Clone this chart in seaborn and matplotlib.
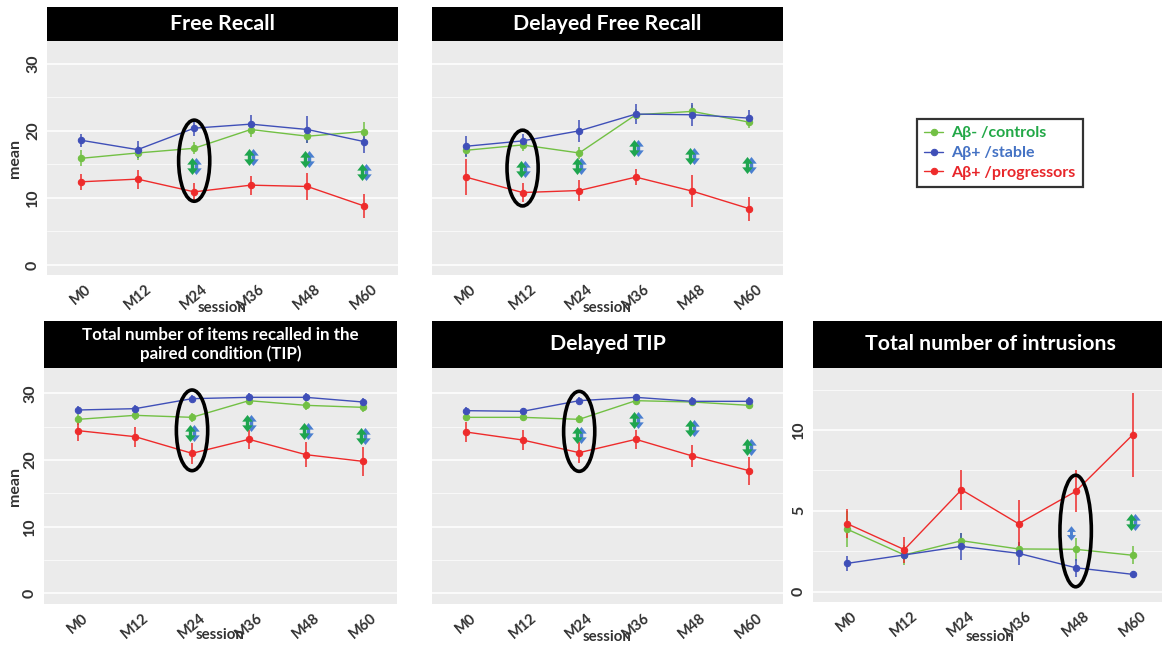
import numpy as np
import pandas as pd
import matplotlib
matplotlib.use("Agg")
import matplotlib.pyplot as plt
import seaborn as sns
from matplotlib.path import Path
from matplotlib.patches import Ellipse
from matplotlib.ticker import MultipleLocator

# ---------------- data ----------------
sessions = ["M0", "M12", "M24", "M36", "M48", "M60"]
groups = ["Aβ- /controls", "Aβ+ /stable", "Aβ+ /progressors"]

# Free Recall
fr_ctrl = [15.9, 16.7, 17.4, 20.2, 19.2, 19.9]
fr_ctrl_err = [1.2, 1.0, 0.9, 1.1, 1.0, 1.4]
fr_stab = [18.6, 17.2, 20.4, 21.0, 20.2, 18.4]
fr_stab_err = [1.0, 1.3, 1.2, 1.4, 2.0, 1.7]
fr_prog = [12.4, 12.8, 10.9, 11.9, 11.7, 8.8]
fr_prog_err = [1.2, 1.4, 1.3, 1.4, 2.0, 1.8]
fr_sig_sessions = ["M24", "M36", "M48", "M60"]
fr_sig_y = [14.8, 16.1, 15.8, 13.8]
fr_sig_groups = ["both", "both", "both", "both"]
fr_ring = ["M24", 9.5, 21.6]

# Delayed Free Recall
dfr_ctrl = [17.1, 17.9, 16.7, 22.4, 22.9, 21.3]
dfr_ctrl_err = [0.8, 0.9, 0.9, 0.8, 0.9, 0.9]
dfr_stab = [17.7, 18.5, 20.0, 22.5, 22.4, 21.9]
dfr_stab_err = [1.6, 1.1, 1.6, 1.5, 1.7, 1.2]
dfr_prog = [13.1, 10.8, 11.1, 13.1, 11.0, 8.4]
dfr_prog_err = [2.7, 1.4, 1.6, 1.2, 2.4, 1.8]
dfr_sig_sessions = ["M12", "M24", "M36", "M48", "M60"]
dfr_sig_y = [14.3, 14.7, 17.4, 16.2, 14.9]
dfr_sig_groups = ["both", "both", "both", "both", "both"]
dfr_ring = ["M12", 8.8, 20.1]

# Total number of items recalled in the paired condition (TIP)
tip_ctrl = [26.1, 26.7, 26.4, 28.9, 28.2, 27.9]
tip_ctrl_err = [0.9, 0.7, 0.7, 0.6, 0.7, 0.7]
tip_stab = [27.5, 27.7, 29.2, 29.4, 29.4, 28.7]
tip_stab_err = [0.6, 0.6, 0.5, 0.6, 0.6, 0.6]
tip_prog = [24.4, 23.5, 21.0, 23.1, 20.8, 19.8]
tip_prog_err = [1.6, 1.5, 1.6, 1.4, 1.9, 2.2]
tip_sig_sessions = ["M24", "M36", "M48", "M60"]
tip_sig_y = [24.0, 25.6, 24.4, 23.6]
tip_sig_groups = ["both", "both", "both", "both"]
tip_ring = ["M24", 18.4, 30.5]

# Delayed TIP
dtip_ctrl = [26.4, 26.4, 26.1, 28.9, 28.7, 28.2]
dtip_ctrl_err = [0.6, 0.6, 0.6, 0.6, 0.6, 0.6]
dtip_stab = [27.4, 27.3, 28.9, 29.4, 28.8, 28.8]
dtip_stab_err = [0.5, 0.5, 0.5, 0.5, 0.6, 0.6]
dtip_prog = [24.2, 23.0, 21.1, 23.1, 20.6, 18.4]
dtip_prog_err = [1.5, 1.5, 1.6, 1.4, 1.7, 2.1]
dtip_sig_sessions = ["M24", "M36", "M48", "M60"]
dtip_sig_y = [23.7, 26.0, 24.8, 21.9]
dtip_sig_groups = ["both", "both", "both", "both"]
dtip_ring = ["M24", 18.3, 30.3]

# Total number of intrusions
int_ctrl = [3.86, 2.27, 3.15, 2.64, 2.62, 2.25]
int_ctrl_err = [1.1, 0.6, 0.5, 0.4, 0.7, 0.55]
int_stab = [1.75, 2.27, 2.8, 2.37, 1.48, 1.07]
int_stab_err = [0.45, 0.3, 0.85, 0.7, 0.55, 0.2]
int_prog = [4.2, 2.6, 6.3, 4.2, 6.2, 9.7]
int_prog_err = [0.9, 0.8, 1.25, 1.45, 1.3, 2.6]
int_sig_sessions = ["M48", "M60"]
int_sig_y = [3.6, 4.33]
int_sig_groups = ["stable", "both"]
int_ring = ["M48", 0.3, 7.2]

# ---------------- style ----------------
sns.set_style("white")
plt.rcParams["font.family"] = ["Lato", "DejaVu Sans"]

line_pal = ["#72c044", "#3f4fb8", "#ee2b2b"]
arrow_green = "#1ea54e"
arrow_blue = "#4a7fd0"
legend_text_colors = ["#22a847", "#4472c4", "#e8262a"]
tick_col = "#333333"

W, H = 1162, 645
fig = plt.figure(figsize=(W / 100, H / 100), dpi=100)


def px(x0, y0, x1, y1):
    return [x0 / W, 1 - y1 / H, (x1 - x0) / W, (y1 - y0) / H]


arrow_path = Path(
    [(0, 1), (0.62, 0.22), (0.2, 0.22), (0.2, -0.22), (0.62, -0.22), (0, -1),
     (-0.62, -0.22), (-0.2, -0.22), (-0.2, 0.22), (-0.62, 0.22), (0, 1)],
    closed=True,
)


def panel(plot_box, strip_box, title, title_size,
          ctrl, ctrl_e, stab, stab_e, prog, prog_e,
          sig_s, sig_y, sig_g, ring, ylim, major, minor,
          show_ylabels, ylab_x, xlab_y, legend=False):
    ax = fig.add_axes(px(*plot_box))
    df = pd.DataFrame({
        "session": sessions * 3,
        "group": np.repeat(groups, len(sessions)),
        "mean": ctrl + stab + prog,
        "err": ctrl_e + stab_e + prog_e,
    })
    sns.pointplot(data=df, x="session", y="mean", hue="group",
                  order=sessions, hue_order=groups, palette=line_pal,
                  errorbar=None, markers="o", markersize=4.6, linewidth=1.0,
                  legend=legend, ax=ax)
    for g, c in zip(groups, line_pal):
        sub = df[df["group"] == g]
        xpos = [sessions.index(s) for s in sub["session"]]
        ax.vlines(xpos, sub["mean"] - sub["err"], sub["mean"] + sub["err"],
                  color=c, lw=1.1, zorder=1)
    # significance arrows
    for s, y, g in zip(sig_s, sig_y, sig_g):
        xi = sessions.index(s)
        if g == "both":
            ax.scatter([xi + 0.035], [y], marker=arrow_path, s=150,
                       color=arrow_blue, linewidths=0, zorder=4)
            ax.scatter([xi - 0.035], [y], marker=arrow_path, s=150,
                       color=arrow_green, linewidths=0, zorder=5)
        else:
            ax.scatter([xi - 0.08], [y], marker=arrow_path, s=110,
                       color=arrow_blue, linewidths=0, zorder=4)
    # ring
    ri = sessions.index(ring[0])
    ax.add_patch(Ellipse((ri, (ring[1] + ring[2]) / 2), width=0.55,
                         height=ring[2] - ring[1], fill=False,
                         ec="black", lw=2.6, zorder=6))

    ax.set_facecolor("#ebebeb")
    for sp in ax.spines.values():
        sp.set_visible(False)
    ax.set_xlim(-0.6, len(sessions) - 0.4)
    ax.set_ylim(*ylim)
    ax.yaxis.set_major_locator(MultipleLocator(major))
    ax.yaxis.set_minor_locator(MultipleLocator(minor))
    ax.set_axisbelow(True)
    ax.grid(False)
    ax.yaxis.grid(True, which="major", color="white", lw=1.1)
    ax.yaxis.grid(True, which="minor", color="white", lw=0.5)
    ax.tick_params(axis="both", which="major", length=3, width=0.8,
                   color="#666666", labelsize=10.5, labelcolor=tick_col, pad=2)
    ax.tick_params(axis="y", which="minor", length=0)
    ax.set_xticks(range(len(sessions)))
    ax.set_xticklabels(sessions, rotation=40, ha="center",
                       fontweight="bold")
    if show_ylabels:
        for t in ax.get_yticklabels():
            t.set_rotation(90)
            t.set_va("center")
            t.set_fontweight("bold")
            t.set_fontsize(11.5)
        ax.set_ylabel("mean", fontweight="bold", fontsize=11.5,
                      color=tick_col, va="center")
        ax.yaxis.set_label_coords(ylab_x, 0.5)
    else:
        ax.tick_params(axis="y", labelleft=False)
        ax.set_ylabel("")
    ax.set_xlabel("session", fontweight="bold", fontsize=10.8,
                  color=tick_col, va="center")
    ax.xaxis.set_label_coords(0.5, xlab_y)

    sx = fig.add_axes(px(*strip_box))
    sx.set_facecolor("black")
    sx.set_xticks([])
    sx.set_yticks([])
    for sp in sx.spines.values():
        sp.set_visible(False)
    sx.text(0.5, 0.5, title, color="white", fontweight="bold",
            fontsize=title_size, ha="center", va="center",
            linespacing=1.15, transform=sx.transAxes)
    return ax


ax1 = panel((47, 41, 398, 275), (47, 7, 398, 41), "Free Recall", 15.3,
            fr_ctrl, fr_ctrl_err, fr_stab, fr_stab_err, fr_prog, fr_prog_err,
            fr_sig_sessions, fr_sig_y, fr_sig_groups, fr_ring,
            (-1.5, 33.4), 10, 5, True, -0.09, -0.14, legend=True)

ax2 = panel((432, 41, 783, 275), (432, 7, 783, 41), "Delayed Free Recall", 15.3,
            dfr_ctrl, dfr_ctrl_err, dfr_stab, dfr_stab_err, dfr_prog, dfr_prog_err,
            dfr_sig_sessions, dfr_sig_y, dfr_sig_groups, dfr_ring,
            (-1.5, 33.4), 10, 5, False, -0.09, -0.14)

ax4 = panel((44, 368, 397, 604), (44, 321, 397, 368),
            "Total number of items recalled in the\npaired condition (TIP)", 12.2,
            tip_ctrl, tip_ctrl_err, tip_stab, tip_stab_err, tip_prog, tip_prog_err,
            tip_sig_sessions, tip_sig_y, tip_sig_groups, tip_ring,
            (-1.6, 33.8), 10, 5, True, -0.082, -0.13)

ax5 = panel((432, 368, 783, 604), (432, 321, 783, 368), "Delayed TIP", 15.3,
            dtip_ctrl, dtip_ctrl_err, dtip_stab, dtip_stab_err, dtip_prog, dtip_prog_err,
            dtip_sig_sessions, dtip_sig_y, dtip_sig_groups, dtip_ring,
            (-1.6, 33.8), 10, 5, False, -0.09, -0.14)

ax6 = panel((813, 368, 1167, 602), (813, 321, 1167, 368),
            "Total number of intrusions", 15.3,
            int_ctrl, int_ctrl_err, int_stab, int_stab_err, int_prog, int_prog_err,
            int_sig_sessions, int_sig_y, int_sig_groups, int_ring,
            (-0.64, 13.83), 5, 2.5, True, -0.09, -0.15)
ax6.set_ylabel("")

# legend
sns.move_legend(ax1, "upper left", bbox_to_anchor=(917 / W, 1 - 119 / H),
                bbox_transform=fig.transFigure, title=None, frameon=True,
                fancybox=False, edgecolor="black", fontsize=11.5,
                borderpad=0.45, labelspacing=0.35, handlelength=1.2,
                handletextpad=0.5, borderaxespad=0)
leg = ax1.get_legend()
leg.get_frame().set_linewidth(1.6)
for t, c in zip(leg.get_texts(), legend_text_colors):
    t.set_color(c)
    t.set_fontweight("bold")

fig.savefig("out.png", dpi=100)
